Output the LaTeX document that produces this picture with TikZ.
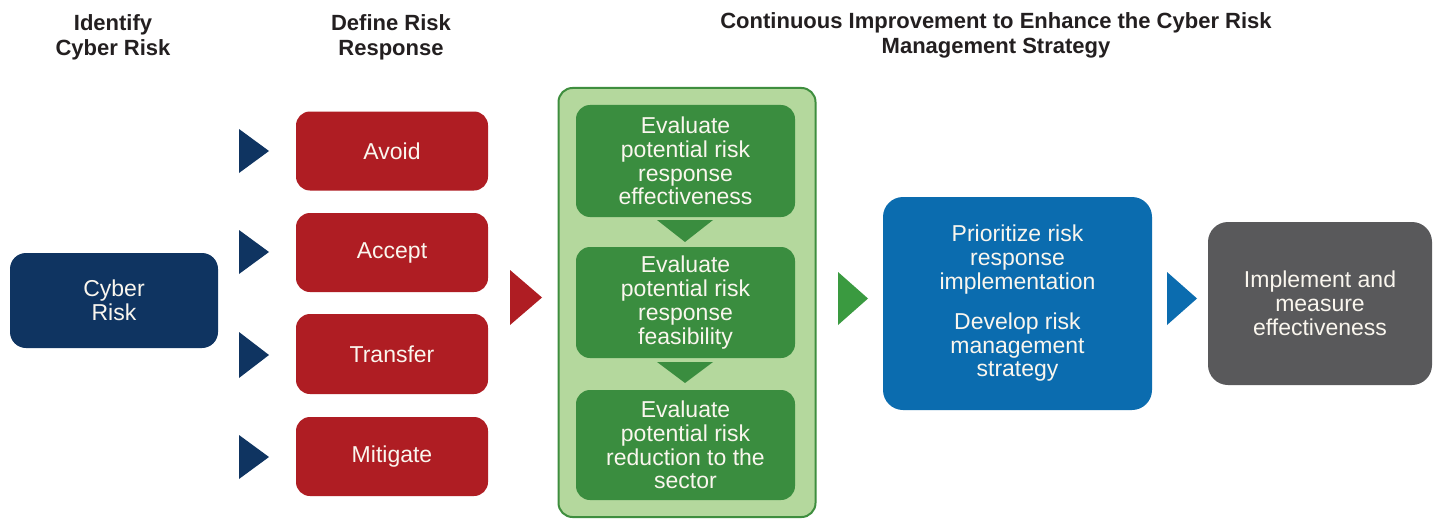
\documentclass[tikz,border=0pt]{standalone}
\usepackage{fontspec}
\setmainfont{Liberation Sans}
\definecolor{navy}{HTML}{0F3461}
\definecolor{rred}{HTML}{AF1D23}
\definecolor{glight}{HTML}{B4D89D}
\definecolor{gborder}{HTML}{3E8E3E}
\definecolor{gdark}{HTML}{3A8D3F}
\definecolor{gtri}{HTML}{3A9A40}
\definecolor{bblue}{HTML}{0B6CAF}
\definecolor{ggray}{HTML}{59595B}
\definecolor{titlegray}{HTML}{231F20}
\definecolor{txtwhite}{HTML}{FAF6EE}
\begin{document}
\begin{tikzpicture}[x=0.5pt,y=-0.5pt,
  box/.style={rounded corners=7pt, text=txtwhite, align=center, inner sep=0pt,
    font=\fontsize{11.5}{11.9}\selectfont},
  ttl/.style={align=center, text=titlegray, inner sep=0pt,
    font=\bfseries\fontsize{11}{12.5}\selectfont}]
\path[use as bounding box] (0,0) rectangle (1438,519);
\fill[white] (0,0) rectangle (1438,519);

% titles
\node[ttl] (t1) at (113,37) {Identify\\Cyber Risk};
\node[ttl] (t2) at (391,37) {Define Risk\\Response};
\node[ttl] (t3) at (996,35) {Continuous Improvement to Enhance the Cyber Risk\\Management Strategy};

% cyber risk
\node[box, fill=navy, minimum width=104pt, minimum height=47.5pt, rounded corners=8pt] (cyber) at (114,300.5) {Cyber\\Risk};

% responses
\node[box, fill=rred, minimum width=96pt, minimum height=39.5pt] (avoid) at (392,151) {Avoid};
\node[box, fill=rred, minimum width=96pt, minimum height=39.5pt] (accept) at (392,252.5) {Accept};
\node[box, fill=rred, minimum width=96pt, minimum height=40pt] (transfer) at (392,354) {Transfer};
\node[box, fill=rred, minimum width=96pt, minimum height=39.5pt] (mitigate) at (392,456.5) {Mitigate};

% navy triangles
\fill[navy] (239,129) -- (269,151) -- (239,173) -- cycle;
\fill[navy] (239,230) -- (269,252) -- (239,274) -- cycle;
\fill[navy] (239,332) -- (269,355) -- (239,378) -- cycle;
\fill[navy] (239,435) -- (269,457) -- (239,479) -- cycle;

% red triangle
\fill[rred] (510,270) -- (542,297.5) -- (510,325) -- cycle;

% green panel
\node[draw=gborder, line width=1pt, fill=glight, rounded corners=7pt,
  minimum width=128.5pt, minimum height=214.5pt, inner sep=0pt] (panel) at (687,302.5) {};
\node[box, fill=gdark, minimum width=109.5pt, minimum height=56pt] (e1) at (685.5,161)
  {Evaluate\\potential risk\\response\\effectiveness};
\node[box, fill=gdark, minimum width=109.5pt, minimum height=55.5pt] (e2) at (685.5,302.5)
  {Evaluate\\potential risk\\response\\feasibility};
\node[box, fill=gdark, minimum width=109.5pt, minimum height=55pt] (e3) at (685.5,445)
  {Evaluate\\potential risk\\reduction to the\\sector};
\fill[gdark] (657,220) -- (713,220) -- (685,242) -- cycle;
\fill[gdark] (657,362) -- (713,362) -- (685,383) -- cycle;

% green triangle
\fill[gtri] (838,272) -- (868,298.5) -- (838,325) -- cycle;

% blue box
\node[box, fill=bblue, minimum width=134.5pt, minimum height=106.5pt, rounded corners=10pt] (prio) at (1017.5,303.5)
  {Prioritize risk\\response\\implementation\\[8pt]Develop risk\\management\\strategy};

% blue triangle
\fill[bblue] (1167,272) -- (1197,298.5) -- (1167,325) -- cycle;

% gray box
\node[box, fill=ggray, minimum width=112pt, minimum height=81.5pt, rounded corners=10pt] (impl) at (1320,303.5)
  {Implement and\\measure\\effectiveness};
\end{tikzpicture}
\end{document}
